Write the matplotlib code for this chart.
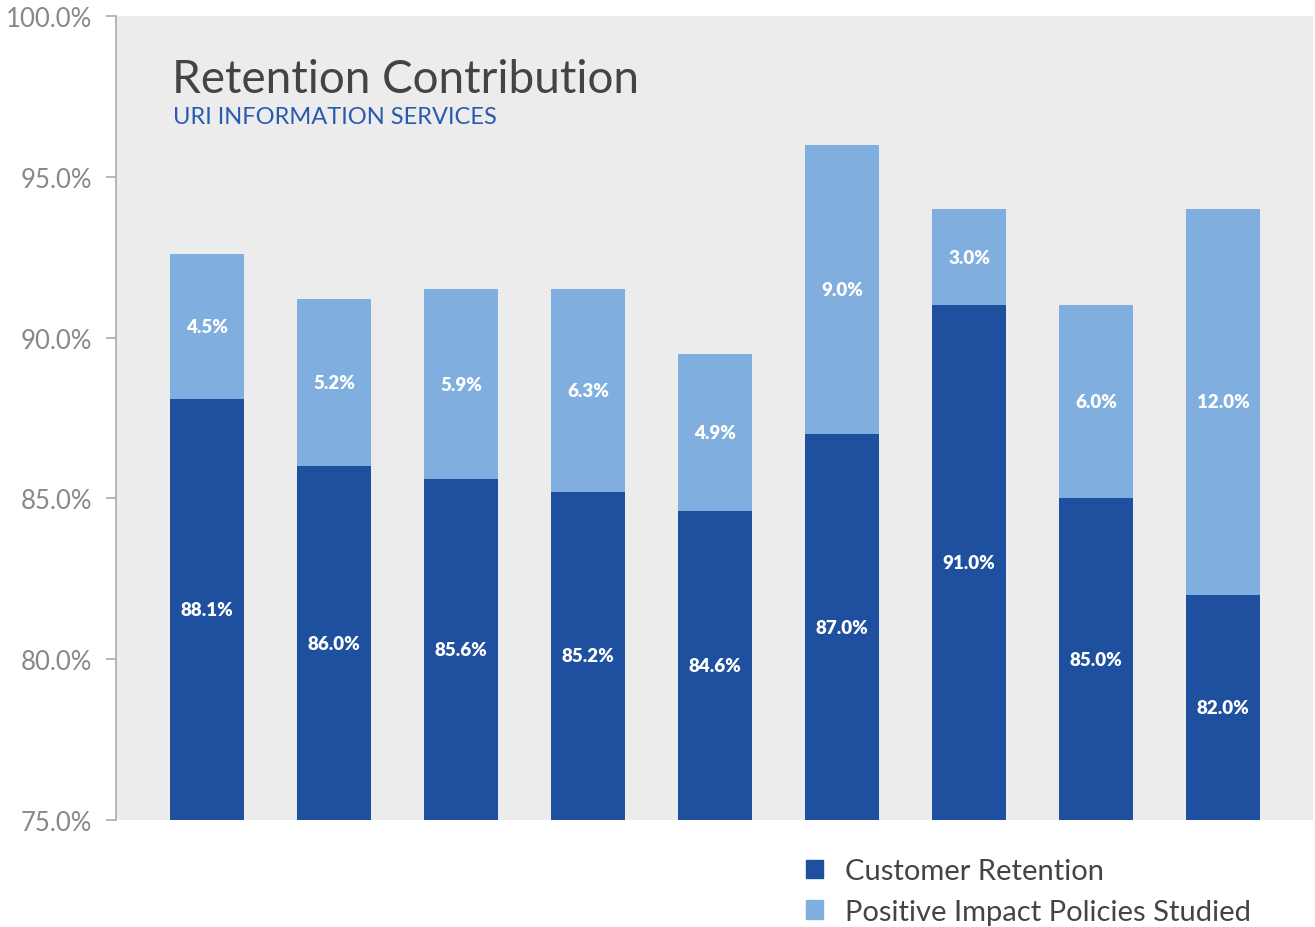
import numpy as np
import matplotlib
matplotlib.use("Agg")
import matplotlib.pyplot as plt
from matplotlib.patches import Patch

# data
retention = [88.1, 86.0, 85.6, 85.2, 84.6, 87.0, 91.0, 85.0, 82.0]
policies = [4.5, 5.2, 5.9, 6.3, 4.9, 9.0, 3.0, 6.0, 12.0]
yticks = [75, 80, 85, 90, 95, 100]

DARK = "#1f50a0"
LIGHT = "#80aede"
BG = "#ececec"
GREY = "#888888"

plt.rcParams["font.family"] = ["Lato", "DejaVu Sans"]

fig = plt.figure(figsize=(13.15, 9.28), dpi=100)
ax = fig.add_axes([0.0882, 0.1153, 0.9103, 0.8664])
ax.set_facecolor(BG)

x = np.arange(len(retention))
w = 0.583
ax.bar(x, retention, w, bottom=0, color=DARK, zorder=2)
ax.bar(x, policies, w, bottom=retention, color=LIGHT, zorder=2)

ax.set_ylim(75, 100)
ax.set_xlim(-0.717, len(x) - 1 + 0.709)

for xi, r, p in zip(x, retention, policies):
    ax.text(xi, (75 + r) / 2, f"{r:.1f}%", ha="center", va="center",
            color="white", fontsize=13.5, fontweight="heavy", zorder=3)
    ax.text(xi, r + p / 2, f"{p:.1f}%", ha="center", va="center",
            color="white", fontsize=13.5, fontweight="heavy", zorder=3)

ax.set_yticks(yticks)
ax.set_yticklabels([f"{v:.1f}%" for v in yticks])
ax.tick_params(axis="y", colors="#aaaaaa", labelcolor=GREY, labelsize=18.5,
               length=7, width=1.2, pad=10)
ax.set_xticks([])
for s in ["top", "right", "bottom"]:
    ax.spines[s].set_visible(False)
ax.spines["left"].set_color("#aaaaaa")
ax.spines["left"].set_linewidth(1.2)

ax.text(0.047, 0.922, "Retention Contribution", transform=ax.transAxes,
        fontsize=33, color="#444444", ha="left", va="center")
ax.text(0.048, 0.875, "URI INFORMATION SERVICES", transform=ax.transAxes,
        fontsize=17, color="#2a5ab0", ha="left", va="center")

handles = [Patch(color=DARK, label="Customer Retention"),
           Patch(color=LIGHT, label="Positive Impact Policies Studied")]
fig.legend(handles=handles, loc="upper left", bbox_to_anchor=(0.6015, 0.09),
           frameon=False, fontsize=21, labelcolor="#444444",
           handlelength=0.6, handleheight=0.6, handletextpad=0.75,
           labelspacing=0.5, borderpad=0)

fig.savefig("out.png", dpi=100, facecolor="white")
